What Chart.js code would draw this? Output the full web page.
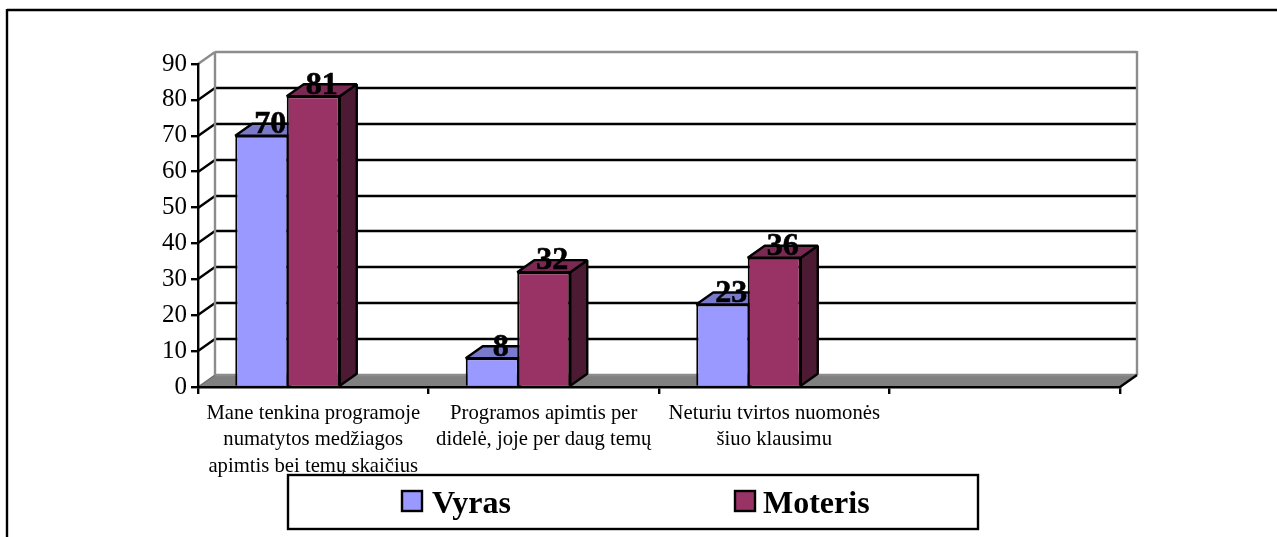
<!DOCTYPE html>
<html>
<head>
<meta charset="utf-8">
<style>html,body{margin:0;padding:0;background:#fff}canvas{display:block}</style>
<script src="https://cdn.jsdelivr.net/npm/chart.js@4"></script>
</head>
<body>
<canvas id="c" width="1277" height="537"></canvas>
<script>
const categories = [
  ["Mane tenkina programoje","numatytos medžiagos","apimtis bei temų skaičius"],
  ["Programos apimtis per","didelė, joje per daug temų"],
  ["Neturiu tvirtos nuomonės","šiuo klausimu"],
  ""
];
const vyras = [70, 8, 23, null];
const moteris = [81, 32, 36, null];
const reservedSlot = [null, null, null, null];
const yTicks = [0,10,20,30,40,50,60,70,80,90];

const SERIF = '"Liberation Serif","Times New Roman",serif';
const DX = 17, DY = -12;
const LW = 2.4;
const shade = {"#9999FF":{top:"#7A7ACC",side:"#4D4D80"},"#993366":{top:"#7A2952",side:"#4D1A33"}};

function line(ctx,x1,y1,x2,y2,color,w){
  ctx.strokeStyle=color;ctx.lineWidth=w;ctx.beginPath();ctx.moveTo(x1,y1);ctx.lineTo(x2,y2);ctx.stroke();
}
function poly(ctx,pts,fill,stroke,w){
  ctx.beginPath();pts.forEach((p,i)=>i?ctx.lineTo(p[0],p[1]):ctx.moveTo(p[0],p[1]));ctx.closePath();
  ctx.fillStyle=fill;ctx.fill();
  if(stroke){ctx.strokeStyle=stroke;ctx.lineWidth=w;ctx.lineJoin="bevel";ctx.stroke();}
}

const walls3d = {
  id:"walls3d",
  beforeDraw(chart){
    const {ctx,chartArea:a,scales:{y}}=chart;
    ctx.save();
    line(ctx,7,10,1277,10,"#000",2.4);
    line(ctx,7,9,7,537,"#000",2.4);
    poly(ctx,[[a.left,a.bottom],[a.left+DX,a.bottom+DY],[a.right+DX,a.bottom+DY],[a.right,a.bottom]],"#808080");
    yTicks.forEach(v=>{
      const p=Math.round(y.getPixelForValue(v));
      const c=(v===90||v===0)?"#8C8C8C":"#000";
      if(v!==0) line(ctx,a.left,p,a.left+DX,p+DY,c,LW);
      else line(ctx,a.left,p,a.left+DX,p+DY,"#6E6E6E",1.5);
      line(ctx,a.left+DX,p+DY,a.right+DX,p+DY,c,LW);
    });
    line(ctx,a.left+DX,a.top+DY,a.left+DX,a.bottom+DY,"#8C8C8C",LW);
    line(ctx,a.right+DX,a.top+DY-1,a.right+DX,a.bottom+DY,"#8C8C8C",LW);
    line(ctx,a.right,a.bottom,a.right+DX,a.bottom+DY,"#000",LW);
    ctx.restore();
  },
  beforeDatasetsDraw(chart){
    const {ctx}=chart;
    ctx.save();
    chart.data.datasets.forEach((ds,i)=>{
      chart.getDatasetMeta(i).data.forEach((bar,j)=>{
        if(ds.data[j]==null) return;
        const hw=bar.width/2,l=bar.x-hw,r=bar.x+hw,t=bar.y,b=bar.base;
        const s=shade[ds.backgroundColor];
        poly(ctx,[[r,t],[r+DX,t+DY],[r+DX,b+DY],[r,b]],s.side,"#000",LW);
        poly(ctx,[[l,t],[l+DX,t+DY],[r+DX,t+DY],[r,t]],s.top,"#000",LW);
      });
    });
    ctx.restore();
  },
  afterDatasetsDraw(chart){
    const {ctx}=chart;
    ctx.save();
    ctx.fillStyle="#000";ctx.strokeStyle="#000";ctx.lineWidth=0.6;
    ctx.font='bold 32px '+SERIF;
    ctx.textAlign="center";ctx.textBaseline="middle";
    chart.data.datasets.forEach((ds,i)=>{
      chart.getDatasetMeta(i).data.forEach((bar,j)=>{
        if(ds.data[j]==null) return;
        ctx.fillText(String(ds.data[j]),bar.x+DX/2,bar.y-11);
        ctx.strokeText(String(ds.data[j]),bar.x+DX/2,bar.y-11);
      });
    });
    ctx.restore();
  },
  afterDraw(chart){
    const {ctx}=chart;
    ctx.save();
    ctx.fillStyle="#fff";ctx.fillRect(288,475,690,54);
    ctx.strokeStyle="#000";ctx.lineWidth=2.4;ctx.strokeRect(288,475,690,54);
    const starts=[402,735];
    chart.data.datasets.filter(d=>d.label).forEach((ds,i)=>{
      const x=starts[i];
      ctx.fillStyle=ds.backgroundColor;ctx.fillRect(x,491,20,20);
      ctx.strokeStyle="#000";ctx.lineWidth=2.4;ctx.strokeRect(x,491,20,20);
      ctx.fillStyle="#000";ctx.font='bold 32px '+SERIF;
      ctx.textAlign="left";ctx.textBaseline="alphabetic";
      ctx.fillText(ds.label,x+(i?28:30),513);
    });
    ctx.restore();
  }
};

new Chart(document.getElementById("c"),{
  type:"bar",
  data:{labels:categories,datasets:[
    {label:"Vyras",data:vyras,backgroundColor:"#9999FF",borderColor:"#000",borderWidth:2},
    {label:"Moteris",data:moteris,backgroundColor:"#993366",borderColor:"#000",borderWidth:2},
    {label:"",data:reservedSlot,backgroundColor:"#FFFFFF"}
  ]},
  plugins:[walls3d],
  options:{
    responsive:false,animation:false,
    layout:{padding:{left:0,top:64,right:157,bottom:0}},
    plugins:{legend:{display:false},tooltip:{enabled:false},title:{display:false}},
    datasets:{bar:{categoryPercentage:0.67,barPercentage:1.03}},
    scales:{
      x:{
        afterFit(s){s.height=150;},
        grid:{drawOnChartArea:false,drawTicks:true,tickLength:7,color:"#000",lineWidth:LW},
        border:{color:"#000",width:LW},
        ticks:{maxRotation:0,minRotation:0,autoSkip:false,color:"#000",padding:6,
          font:{family:SERIF,size:20.7,lineHeight:1.28}}
      },
      y:{
        min:0,max:90,
        afterFit(s){s.width=198;},
        grid:{drawOnChartArea:false,drawTicks:true,tickLength:7,color:"#000",lineWidth:LW},
        border:{color:"#000",width:LW},
        ticks:{stepSize:10,color:"#000",padding:4,font:{family:SERIF,size:25}}
      }
    }
  }
});
</script>
</body>
</html>
